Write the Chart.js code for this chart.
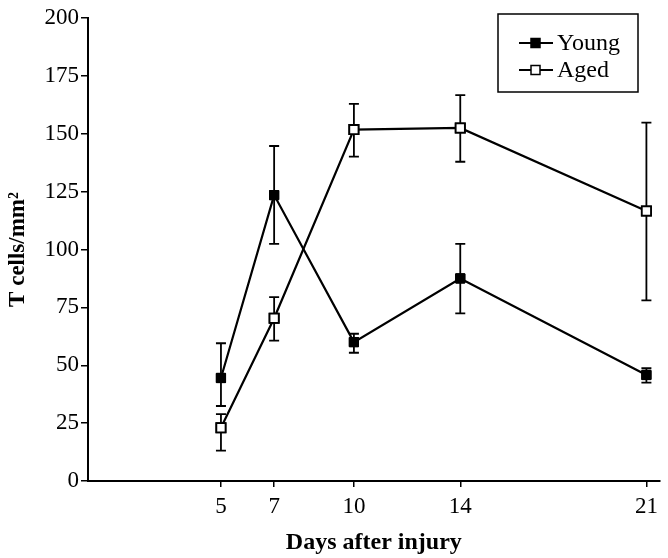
<!DOCTYPE html>
<html>
<head>
<meta charset="utf-8">
<script src="https://cdn.jsdelivr.net/npm/chart.js@4/dist/chart.umd.min.js"></script>
<style>
  html, body { margin: 0; padding: 0; background: #fff; }
  #wrap { width: 668px; height: 558px; }
</style>
</head>
<body>
<div id="wrap"><canvas id="chart"></canvas></div>
<script>
days = [5, 7, 10, 14, 21];
dayTicks = [5, 7, 10, 14, 21];

young = [44.5, 123.5, 60, 87.5, 45.8];
youngUpper = [59.5, 144.7, 63.6, 102.4, 48.7];
youngLower = [32.4, 102.4, 55.4, 72.4, 42.5];

aged = [23, 70.3, 151.8, 152.5, 116.6];
agedUpper = [28.9, 79.4, 162.9, 166.7, 154.8];
agedLower = [13.1, 60.6, 140.1, 137.9, 78];

seriesNames = ["Young", "Aged"];

serif = "'Liberation Serif', 'DejaVu Serif', serif";

function toPoints(values) {
    return days.map((d, i) => ({ x: d, y: values[i] }));
}

errorBars = {
    id: 'errorBars',
    afterDatasetsDraw(chart) {
        var ctx = chart.ctx;
        var xs = chart.scales.x, ys = chart.scales.y;
        var sets = [[youngUpper, youngLower], [agedUpper, agedLower]];
        ctx.save();
        ctx.strokeStyle = '#000';
        ctx.lineWidth = 1.8;
        sets.forEach(([up, lo]) => {
            days.forEach((d, i) => {
                var x = xs.getPixelForValue(d);
                var y1 = ys.getPixelForValue(up[i]);
                var y2 = ys.getPixelForValue(lo[i]);
                ctx.beginPath();
                ctx.moveTo(x, y1); ctx.lineTo(x, y2);
                ctx.moveTo(x - 5, y1); ctx.lineTo(x + 5, y1);
                ctx.moveTo(x - 5, y2); ctx.lineTo(x + 5, y2);
                ctx.stroke();
            });
        });
        ctx.restore();
        // markers go back on top of the bars
        chart.data.datasets.forEach((ds, i) => {
            chart.getDatasetMeta(i).data.forEach(p => p.draw(ctx, chart.chartArea));
        });
    }
};

boxLegend = {
    id: 'boxLegend',
    afterDraw(chart) {
        var ctx = chart.ctx;
        ctx.save();
        ctx.strokeStyle = '#000';
        ctx.lineWidth = 1.5;
        ctx.strokeRect(498, 14, 140, 78);
        var rows = [43, 70];
        ctx.font = "24px " + serif;
        ctx.textBaseline = 'middle';
        seriesNames.forEach((name, i) => {
            var y = rows[i];
            ctx.lineWidth = 2;
            ctx.beginPath();
            ctx.moveTo(519, y); ctx.lineTo(553, y);
            ctx.stroke();
            ctx.lineWidth = 1.5;
            ctx.fillStyle = i == 0 ? '#000' : '#fff';
            ctx.fillRect(531, y - 4.5, 9, 9);
            ctx.strokeRect(531, y - 4.5, 9, 9);
            ctx.fillStyle = '#000';
            ctx.fillText(name, 557, y + 1);
        });
        ctx.restore();
    }
};

new Chart(document.getElementById('chart'), {
    type: 'line',
    data: {
        datasets: [{
            label: seriesNames[0],
            data: toPoints(young),
            borderColor: '#000',
            borderWidth: 2.2,
            pointStyle: 'rect',
            pointRadius: 6.5,
            pointBackgroundColor: '#000',
            pointBorderColor: '#000',
            pointBorderWidth: 1,
            tension: 0
        }, {
            label: seriesNames[1],
            data: toPoints(aged),
            borderColor: '#000',
            borderWidth: 2.2,
            pointStyle: 'rect',
            pointRadius: 6.5,
            pointBackgroundColor: '#fff',
            pointBorderColor: '#000',
            pointBorderWidth: 1.8,
            tension: 0
        }]
    },
    options: {
        responsive: true,
        maintainAspectRatio: false,
        animation: false,
        layout: { padding: { top: 18, right: 7, left: 0, bottom: 0 } },
        scales: {
            x: {
                type: 'linear',
                min: 0,
                max: 21.5,
                afterBuildTicks: axis => { axis.ticks = dayTicks.map(v => ({ value: v })); },
                afterFit: axis => { axis.height = 77; },
                grid: { drawOnChartArea: false, drawTicks: true, tickLength: 6, color: '#000', lineWidth: 1.5 },
                border: { display: true, color: '#000', width: 2 },
                ticks: { color: '#000', font: { family: serif, size: 23 }, padding: 6, maxRotation: 0 },
                title: { display: true, text: 'Days after injury', color: '#000', font: { family: serif, size: 24, weight: 'bold', lineHeight: 0.95 }, padding: { top: 6 } }
            },
            y: {
                min: 0,
                max: 200,
                afterFit: axis => { axis.width = 88; },
                grid: { drawOnChartArea: false, drawTicks: true, tickLength: 7, color: '#000', lineWidth: 1.5 },
                border: { display: true, color: '#000', width: 2 },
                ticks: { stepSize: 25, color: '#000', font: { family: serif, size: 23 }, padding: 2 },
                title: { display: true, text: 'T cells/mm²', color: '#000', font: { family: serif, size: 23, weight: 'bold' }, padding: { bottom: 2 } }
            }
        },
        plugins: {
            legend: { display: false },
            tooltip: { enabled: false }
        }
    },
    plugins: [errorBars, boxLegend]
});
</script>
</body>
</html>
